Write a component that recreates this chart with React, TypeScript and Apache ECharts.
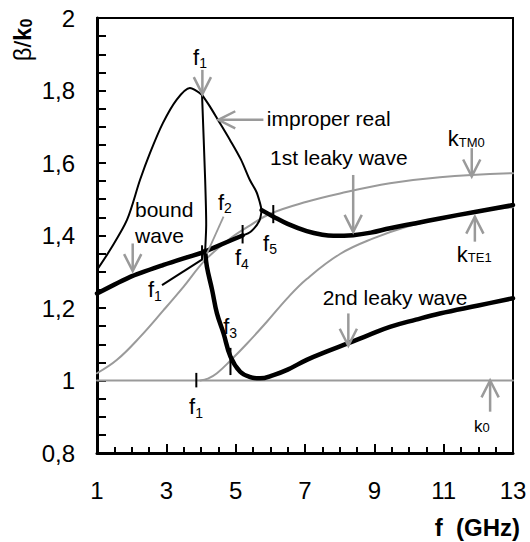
import React, { useEffect, useRef } from 'react';
import * as echarts from 'echarts';

const FONT = 'Arial, "Liberation Sans", Helvetica, sans-serif';
const GRAY = '#9a9a9a';

// axis extents / ticks
const xRange = [1, 13];
const xStep = 2;
const yRange = [0.8, 2];
const yStep = 0.2;

// curves [f (GHz), beta/k0]
const improperLeft = [[1, 1.305], [1.375, 1.36], [1.865, 1.443], [2.24, 1.553], [2.53, 1.628], [2.9, 1.71], [3.3, 1.775], [3.68, 1.807], [4.03, 1.788]];
const improperRight = [[4.03, 1.788], [4.25, 1.757], [4.49, 1.719], [4.84, 1.663], [5.15, 1.61], [5.41, 1.553], [5.6, 1.52], [5.7, 1.49], [5.75, 1.47]];
const loopConnector = [[5.75, 1.47], [5.68, 1.44], [5.45, 1.412], [5.2, 1.4]];
const steepBranch = [[4.03, 1.788], [4.12, 1.553], [4.15, 1.43], [4.12, 1.358]];
const boundWave = [[1, 1.24], [1.96, 1.286], [2.92, 1.319], [3.5, 1.337], [3.98, 1.351], [4.12, 1.356], [4.6, 1.376], [5.2, 1.4]];
const firstLeaky = [[5.75, 1.47], [6.09, 1.452], [6.5, 1.432], [7.05, 1.412], [7.5, 1.402], [7.82, 1.399], [8.39, 1.401], [8.9, 1.408], [9.45, 1.42], [10.2, 1.434], [10.89, 1.447], [11.9, 1.465], [13, 1.484]];
const secondLeaky = [[4.12, 1.358], [4.17, 1.314], [4.32, 1.25], [4.46, 1.185], [4.65, 1.13], [4.85, 1.066], [5.13, 1.024], [5.4, 1.01], [5.7, 1.006], [6.09, 1.015], [6.5, 1.03], [7.05, 1.057], [7.6, 1.079], [8.25, 1.103], [8.85, 1.126], [9.45, 1.148], [10.2, 1.168], [10.89, 1.185], [12, 1.207], [13, 1.227]];
const kTM0 = [[1, 1.02], [1.577, 1.057], [2.25, 1.121], [2.92, 1.194], [3.5, 1.259], [4.12, 1.332], [4.85, 1.392], [5.42, 1.428], [6.0, 1.46], [7.05, 1.493], [8.01, 1.516], [9.45, 1.544], [10.89, 1.561], [13, 1.572]];
const kTE1 = [[3.98, 1.0], [4.2, 1.005], [4.46, 1.02], [4.85, 1.055], [5.33, 1.102], [5.9, 1.162], [6.5, 1.228], [7.05, 1.28], [8.01, 1.349], [8.97, 1.392], [9.93, 1.424], [10.89, 1.447], [11.85, 1.465], [13, 1.478]];
const k0 = [[1, 1], [13, 1]];

// short marker ticks on curves and leader lines [x1,y1,x2,y2]
const blackSegments = [
  [3.865, 0.981, 3.865, 1.021],
  [4.85, 1.015, 4.85, 1.09],
  [4.03, 1.334, 4.03, 1.373],
  [5.2, 1.378, 5.2, 1.429],
  [6.085, 1.434, 6.085, 1.484],
  [2.875, 1.263, 4.05, 1.335],
];
const graySegments = [[4.65, 1.452, 4.17, 1.35]];

// arrows [fromX, fromY, toX, toY]
const arrows = [
  [4.04, 1.857, 4.04, 1.79],
  [5.8, 1.719, 4.5, 1.719],
  [8.39, 1.567, 8.39, 1.41],
  [11.81, 1.641, 11.81, 1.563],
  [11.9, 1.383, 11.9, 1.452],
  [8.25, 1.185, 8.25, 1.096],
  [12.34, 0.914, 12.34, 1.0],
  [2.03, 1.378, 2.03, 1.302],
];

// annotation texts
const annoTexts = ['{f|f}{fs|1}', 'improper real', '1st leaky wave', '{k|k}{ks|TM0}', 'bound\nwave', '{f|f}{fs|2}', '{f|f}{fs|1}', '{f|f}{fs|4}', '{f|f}{fs|5}', '{k|k}{ks|TE1}', '2nd leaky wave', '{f|f}{fs|3}', '{f|f}{fs|1}', '{k0|k}{k0s|0}'];
const annoX = [3.97, 5.9, 5.99, 11.12, 2.096, 4.69, 2.67, 5.18, 5.99, 11.38, 7.51, 4.84, 3.855, 12.1];
const annoY = [1.892, 1.724, 1.614, 1.672, 1.437, 1.492, 1.25, 1.338, 1.379, 1.354, 1.228, 1.148, 0.927, 0.885];
const annoAlign = ['center', 'left', 'left', 'left', 'left', 'center', 'center', 'center', 'center', 'left', 'left', 'center', 'center', 'center'];

const RICH: any = {
  f: { fontFamily: FONT, fontSize: 22, fill: '#000', verticalAlign: 'bottom', padding: [0, 0, 2, 0] },
  fs: { fontFamily: FONT, fontSize: 14, fill: '#000', verticalAlign: 'bottom' },
  k: { fontFamily: FONT, fontSize: 22, fill: '#000', verticalAlign: 'bottom' },
  ks: { fontFamily: FONT, fontSize: 13, fill: '#000', verticalAlign: 'bottom', padding: [0, 0, 1, 0] },
  k0: { fontFamily: FONT, fontSize: 17, fill: '#000', verticalAlign: 'bottom' },
  k0s: { fontFamily: FONT, fontSize: 13, fill: '#000', verticalAlign: 'bottom', padding: [0, 0, 1, 0] },
};

function lineSeries(data: number[][], color: string, width: number, smooth: number) {
  return {
    type: 'line',
    data,
    showSymbol: false,
    symbol: 'none',
    smooth,
    lineStyle: { color, width, cap: 'round', join: 'round' },
    silent: true,
  };
}

function segSeries(data: number[][], color: string, width: number) {
  return {
    type: 'custom',
    coordinateSystem: 'cartesian2d',
    data,
    encode: { x: [0, 2], y: [1, 3] },
    silent: true,
    z: 5,
    renderItem: (params: any, api: any) => {
      const a = api.coord([api.value(0), api.value(1)]);
      const b = api.coord([api.value(2), api.value(3)]);
      return { type: 'line', shape: { x1: a[0], y1: a[1], x2: b[0], y2: b[1] }, style: { stroke: color, lineWidth: width } };
    },
  };
}

export default function App() {
  const ref = useRef<HTMLDivElement>(null);
  useEffect(() => {
    const chart = echarts.init(ref.current!, null, { renderer: 'svg' });
    const option: any = {
      animation: false,
      backgroundColor: '#fff',
      grid: { left: 97, right: 17, top: 18, bottom: 89, show: true, borderColor: '#000', borderWidth: 2 },
      xAxis: {
        type: 'value', min: xRange[0], max: xRange[1], interval: xStep,
        axisLine: { show: true, lineStyle: { color: '#000', width: 3 } },
        axisTick: { show: true, inside: true, length: 9, lineStyle: { color: '#000', width: 2 } },
        minorTick: { show: true, splitNumber: 4, length: 6, lineStyle: { color: '#000', width: 2 } },
        splitLine: { show: false },
        axisLabel: { color: '#000', fontFamily: FONT, fontSize: 24, margin: 25, formatter: (v: number) => String(v) },
      },
      yAxis: {
        type: 'value', min: yRange[0], max: yRange[1], interval: yStep,
        axisLine: { show: true, lineStyle: { color: '#000', width: 3 } },
        axisTick: { show: true, inside: true, length: 9, lineStyle: { color: '#000', width: 2 } },
        minorTick: { show: true, splitNumber: 4, length: 9, lineStyle: { color: '#000', width: 2 } },
        splitLine: { show: false },
        axisLabel: { color: '#000', fontFamily: FONT, fontSize: 24, margin: 22, formatter: (v: number) => String(Math.round(v * 10) / 10).replace('.', ',') },
      },
      graphic: [
        {
          type: 'text', x: 22, y: 40, rotation: Math.PI / 2,
          style: {
            text: '{n|β/}{b|k}{bs|0}', align: 'center', verticalAlign: 'middle',
            rich: {
              n: { fontFamily: FONT, fontSize: 24, fill: '#000', verticalAlign: 'bottom' },
              b: { fontFamily: FONT, fontSize: 24, fontWeight: 'bold', fill: '#000', verticalAlign: 'bottom' },
              bs: { fontFamily: FONT, fontSize: 16, fontWeight: 'bold', fill: '#000', verticalAlign: 'bottom' },
            },
          },
        },
        {
          type: 'text', x: 520, y: 527,
          style: { text: 'f  (GHz)', fontFamily: FONT, fontSize: 24, fontWeight: 'bold', fill: '#000', align: 'right', verticalAlign: 'middle' },
        },
      ],
      series: [
        lineSeries(k0, GRAY, 2, 0),
        lineSeries(kTM0, GRAY, 2, 0.4),
        lineSeries(kTE1, GRAY, 2, 0.4),
        lineSeries(improperLeft, '#000', 2, 0.3),
        lineSeries(improperRight, '#000', 2, 0.3),
        lineSeries(loopConnector, '#000', 2, 0.3),
        lineSeries(steepBranch, '#000', 2, 0.2),
        lineSeries(boundWave, '#000', 4.5, 0.2),
        lineSeries(firstLeaky, '#000', 4.5, 0.4),
        lineSeries(secondLeaky, '#000', 4.5, 0.4),
        segSeries(blackSegments, '#000', 2),
        segSeries(graySegments, GRAY, 1.8),
        {
          type: 'custom',
          coordinateSystem: 'cartesian2d',
          data: arrows,
          encode: { x: [0, 2], y: [1, 3] },
          silent: true,
          z: 6,
          renderItem: (params: any, api: any) => {
            const a = api.coord([api.value(0), api.value(1)]);
            const b = api.coord([api.value(2), api.value(3)]);
            const ang = Math.atan2(b[1] - a[1], b[0] - a[0]);
            const L = 19, h = 0.47;
            const p1 = [b[0] - L * Math.cos(ang - h), b[1] - L * Math.sin(ang - h)];
            const p2 = [b[0] - L * Math.cos(ang + h), b[1] - L * Math.sin(ang + h)];
            return {
              type: 'group',
              children: [
                { type: 'line', shape: { x1: a[0], y1: a[1], x2: b[0], y2: b[1] }, style: { stroke: GRAY, lineWidth: 2.5 } },
                { type: 'polyline', shape: { points: [p1, b, p2] }, style: { stroke: GRAY, lineWidth: 2.5, fill: null } },
              ],
            };
          },
        },
        {
          type: 'custom',
          coordinateSystem: 'cartesian2d',
          data: annoX.map((x, i) => [x, annoY[i]]),
          encode: { x: 0, y: 1 },
          silent: true,
          z: 7,
          renderItem: (params: any, api: any) => {
            const i = params.dataIndex;
            const p = api.coord([api.value(0), api.value(1)]);
            return {
              type: 'text', x: p[0], y: p[1],
              style: {
                text: annoTexts[i], rich: RICH, fontFamily: FONT, fontSize: 21, lineHeight: 26, fill: '#000',
                align: annoAlign[i], verticalAlign: 'middle',
              },
            };
          },
        },
      ],
    };
    chart.setOption(option);
    return () => chart.dispose();
  }, []);
  return <div ref={ref} style={{ position: 'absolute', left: 0, top: 0, width: 530, height: 542 }} />;
}
